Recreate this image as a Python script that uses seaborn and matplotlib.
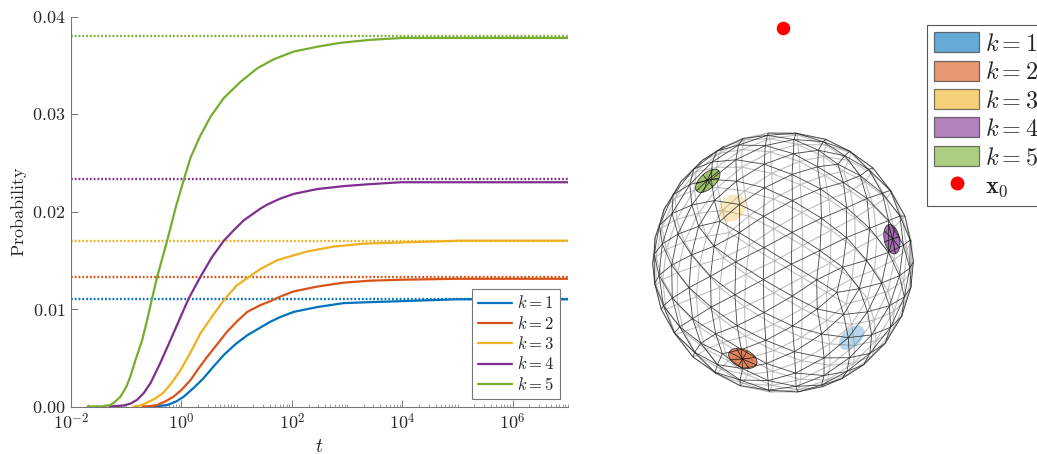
import numpy as np
import pandas as pd
import seaborn as sns
import matplotlib.pyplot as plt
from matplotlib.collections import LineCollection
from matplotlib.lines import Line2D
from matplotlib.patches import Patch, Polygon

k_labels = ['$k=1$', '$k=2$', '$k=3$', '$k=4$', '$k=5$']
colors = ['#0072BD', '#D95319', '#EDB120', '#7E2F8E', '#77AC30']
limits = [0.0110, 0.0133, 0.0170, 0.0233, 0.0380]

# log10(t) and probability for every curve
log_t_1 = [-0.55, -0.4, -0.26, -0.1, 0.04, 0.22, 0.40, 0.58, 0.77, 0.98, 1.19, 1.43, 1.61, 1.80, 2.03, 2.46, 2.93, 3.4, 3.97, 5, 7]
prob_1 = [0.0, 0.00005, 0.00015, 0.0005, 0.0010, 0.0019, 0.0029, 0.0041, 0.0053, 0.0064, 0.0073, 0.0081, 0.0087, 0.0092, 0.0097, 0.0102, 0.0106, 0.0107, 0.0108, 0.0110, 0.0110]
log_t_2 = [-0.7, -0.55, -0.44, -0.3, -0.145, 0.0, 0.163, 0.31, 0.466, 0.65, 0.83, 1.0, 1.19, 1.43, 1.61, 1.80, 2.03, 2.46, 2.93, 3.4, 3.97, 5, 7]
prob_2 = [0.0, 0.00005, 0.00015, 0.0005, 0.0010, 0.0017, 0.0027, 0.0039, 0.0051, 0.0064, 0.0077, 0.0087, 0.0097, 0.0104, 0.0108, 0.0113, 0.0118, 0.0123, 0.0127, 0.0129, 0.0130, 0.0131, 0.0131]
log_t_3 = [-0.87, -0.75, -0.62, -0.48, -0.33, -0.18, -0.02, 0.16, 0.344, 0.55, 0.78, 1.0, 1.25, 1.43, 1.73, 2.03, 2.28, 2.75, 3.3, 3.84, 5, 7]
prob_3 = [0.0, 0.0001, 0.0004, 0.0008, 0.0014, 0.0024, 0.0037, 0.0055, 0.0075, 0.0092, 0.0110, 0.0124, 0.0134, 0.0141, 0.0150, 0.0155, 0.0159, 0.0164, 0.0167, 0.0168, 0.0170, 0.0170]
log_t_4 = [-1.3, -1.05, -0.92, -0.8, -0.68, -0.56, -0.38, -0.2, -0.03, 0.133, 0.344, 0.55, 0.767, 0.95, 1.13, 1.43, 1.55, 1.78, 2.03, 2.46, 2.93, 3.4, 3.97, 5, 7]
prob_4 = [0.0, 0.0001, 0.0003, 0.0007, 0.0014, 0.0024, 0.0045, 0.0068, 0.0090, 0.0111, 0.0133, 0.0153, 0.0170, 0.0181, 0.0191, 0.0203, 0.0207, 0.0213, 0.0218, 0.0223, 0.0226, 0.0228, 0.0230, 0.0230, 0.0230]
log_t_5 = [-1.7, -1.45, -1.286, -1.2, -1.105, -1.0, -0.924, -0.83, -0.712, -0.62, -0.531, -0.44, -0.259, -0.1, 0.045, 0.163, 0.344, 0.525, 0.761, 1.069, 1.377, 1.667, 2.03, 2.46, 2.88, 3.4, 4, 5, 7]
prob_5 = [0.0, 0.0, 0.00015, 0.0005, 0.0010, 0.0020, 0.0031, 0.0048, 0.0068, 0.0089, 0.0111, 0.0133, 0.0170, 0.0205, 0.0233, 0.0255, 0.0278, 0.0297, 0.0316, 0.0333, 0.0347, 0.0356, 0.0364, 0.0369, 0.0373, 0.0376, 0.0378, 0.0378, 0.0378]
all_log_t = [log_t_1, log_t_2, log_t_3, log_t_4, log_t_5]
all_probs = [prob_1, prob_2, prob_3, prob_4, prob_5]

# spots on the unit sphere as seen from the camera (x, y, front side or not)
spot_x = [0.53, -0.31, -0.39, 0.84, -0.58]
spot_y = [-0.58, -0.74, 0.42, 0.18, 0.63]
spot_front = [False, True, False, True, True]
x0_y = 1.8


def make_mesh(freq):
    # geodesic sphere from a subdivided icosahedron
    g = (1 + 5 ** 0.5) / 2
    v = np.array([[-1, g, 0], [1, g, 0], [-1, -g, 0], [1, -g, 0], [0, -1, g], [0, 1, g],
                  [0, -1, -g], [0, 1, -g], [g, 0, -1], [g, 0, 1], [-g, 0, -1], [-g, 0, 1]], float)
    faces = [(0, 11, 5), (0, 5, 1), (0, 1, 7), (0, 7, 10), (0, 10, 11), (1, 5, 9), (5, 11, 4),
             (11, 10, 2), (10, 7, 6), (7, 1, 8), (3, 9, 4), (3, 4, 2), (3, 2, 6), (3, 6, 8),
             (3, 8, 9), (4, 9, 5), (2, 4, 11), (6, 2, 10), (8, 6, 7), (9, 8, 1)]
    segs = {}
    for a, b, c in faces:
        for i in range(freq):
            for j in range(freq - i):
                p = [(i, j), (i + 1, j), (i, j + 1)]
                pts = []
                for s, t in p:
                    q = v[a] * (freq - s - t) + v[b] * s + v[c] * t
                    pts.append(q / np.linalg.norm(q))
                tri = [(0, 1), (1, 2), (2, 0)]
                for m, n in tri:
                    key = tuple(sorted([tuple(np.round(pts[m], 5)), tuple(np.round(pts[n], 5))]))
                    segs[key] = (pts[m], pts[n])
    return np.array(list(segs.values()))


def rotation(ax_, ay_, az_):
    cx, sx, cy, sy, cz, sz = np.cos(ax_), np.sin(ax_), np.cos(ay_), np.sin(ay_), np.cos(az_), np.sin(az_)
    rx = np.array([[1, 0, 0], [0, cx, -sx], [0, sx, cx]])
    ry = np.array([[cy, 0, sy], [0, 1, 0], [-sy, 0, cy]])
    rz = np.array([[cz, -sz, 0], [sz, cz, 0], [0, 0, 1]])
    return rz @ ry @ rx


def draw_spot(ax, x, y, front, color, size=0.115):
    z = (1 - x * x - y * y) ** 0.5 * (1 if front else -1)
    c = np.array([x, y, z])
    u = np.cross(c, [0.3, 0.5, 0.8])
    u /= np.linalg.norm(u)
    w = np.cross(c, u)
    th = np.linspace(0, 2 * np.pi, 49)
    rim = np.cos(size) * c + np.sin(size) * (np.outer(np.cos(th), u) + np.outer(np.sin(th), w))
    if front:
        ax.add_patch(Polygon(rim[:, :2], fc=color, alpha=0.7, ec='none', zorder=3))
        ax.plot(rim[:, 0], rim[:, 1], color='#222222', lw=0.5, zorder=5)
        spokes = [[c[:2], rim[i, :2]] for i in range(0, 48, 6)]
        ax.add_collection(LineCollection(spokes, colors='#111111', linewidths=0.5, zorder=5))
    else:
        ax.add_patch(Polygon(rim[:, :2], fc=color, alpha=0.28, ec='none', zorder=2))


sns.set_theme(style='ticks')
plt.rcParams['font.family'] = ['serif']
plt.rcParams['font.serif'] = ['cmr10', 'DejaVu Serif']
plt.rcParams['mathtext.fontset'] = 'cm'
plt.rcParams['axes.formatter.use_mathtext'] = True
plt.rcParams['axes.unicode_minus'] = False

W, H = 1037, 454
fig = plt.figure(figsize=(W / 100, H / 100), dpi=100)
ax = fig.add_axes([71 / W, 1 - 406.5 / H, 497 / W, 390 / H])

# Prepare data.
frames = []
for label, log_t, probs in zip(k_labels, all_log_t, all_probs):
    frames.append(pd.DataFrame({'t': 10.0 ** np.array(log_t), 'prob': probs, 'k': label}))
data = pd.concat(frames)

for lim, col in zip(limits, colors):
    ax.axhline(lim, color=col, lw=1.7, ls=(0, (0.75, 0.85)), zorder=1)
sns.lineplot(data=data, x='t', y='prob', hue='k', palette=colors, estimator=None, errorbar=None,
             lw=1.6, ax=ax, zorder=2, sort=False)

ax.set_xscale('log')
ax.set_xlim(1e-2, 1e7)
ax.set_ylim(0, 0.04)
xt = [1e-2, 1e0, 1e2, 1e4, 1e6]
ax.set_xticks(xt)
ax.set_xticklabels(['$10^{-2}$', '$10^{0}$', '$10^{2}$', '$10^{4}$', '$10^{6}$'])
ax.xaxis.set_minor_locator(plt.LogLocator(base=10, subs=np.arange(1, 10), numticks=30))
ax.xaxis.set_minor_formatter(plt.NullFormatter())
yt = [0, 0.01, 0.02, 0.03, 0.04]
ax.set_yticks(yt)
ax.set_yticklabels(['$%.2f$' % y for y in yt])
ax.tick_params(axis='both', which='major', direction='in', length=5, width=0.6, color='#666666',
               labelsize=13, labelcolor='#262626', pad=4)
ax.tick_params(axis='x', which='minor', direction='in', length=2.5, width=0.5, color='#777777')
ax.set_xlabel('$t$', fontsize=14, color='#262626', labelpad=4)
ax.set_ylabel('$\\mathrm{Probability}$', fontsize=13, color='#262626', labelpad=2)
sns.despine(ax=ax)
for side in ['left', 'bottom']:
    ax.spines[side].set_color('#777777')
    ax.spines[side].set_linewidth(0.8)

handles, labels = ax.get_legend_handles_labels()
leg = ax.legend(handles=handles, labels=labels, title=None, loc='lower left',
                bbox_to_anchor=((472 - 71) / 497, 8 / 390), borderaxespad=0,
                fontsize=12, handlelength=2.05, labelspacing=0.2, handletextpad=0.3,
                borderpad=0.35, fancybox=False, framealpha=1, edgecolor='#777777')
leg.get_frame().set_linewidth(0.8)
leg.set_zorder(10)

# Sphere panel.
ax2 = fig.add_axes([640 / W, 1 - 410 / H, 285 / W, 400 / H])
R = 130.5
ax2.set_xlim((640 - 783) / R, (925 - 783) / R)
ax2.set_ylim((262.5 - 410) / R, (262.5 - 10) / R)
ax2.axis('off')

mesh = make_mesh(5) @ rotation(0.95, 0.3, 0.45).T
mid_z = mesh[:, :, 2].mean(axis=1)
ax2.add_collection(LineCollection(mesh[mid_z < 0][:, :, :2], colors='#aaaaaa', linewidths=0.8,
                                  alpha=0.75, zorder=1))
ax2.add_collection(LineCollection(mesh[mid_z >= 0][:, :, :2], colors='#222222', linewidths=0.6,
                                  alpha=0.85, zorder=4))
for x, y, front, col in zip(spot_x, spot_y, spot_front, colors):
    draw_spot(ax2, x, y, front, col)
sns.scatterplot(x=[0], y=[x0_y], color='#FF0000', s=95, linewidth=0, ax=ax2, zorder=6, clip_on=False)
ax2.set(xlabel='', ylabel='')

patches = [Patch(fc=c, alpha=0.6, ec='#222222', lw=0.9) for c in colors]
dot = Line2D([], [], ls='none', marker='o', color='#FF0000', ms=10, mew=0)
leg2 = fig.legend(handles=patches + [dot], labels=k_labels + ['$\\mathbf{x}_0$'], loc='upper left',
                  bbox_to_anchor=(927 / W, 1 - 25 / H), borderaxespad=0, fontsize=17.5,
                  handlelength=1.85, handleheight=0.9, labelspacing=0.2, handletextpad=0.25,
                  borderpad=0.3, fancybox=False, framealpha=1, edgecolor='#555555')
leg2.get_frame().set_linewidth(0.8)

fig.savefig('out.png', dpi=100)
